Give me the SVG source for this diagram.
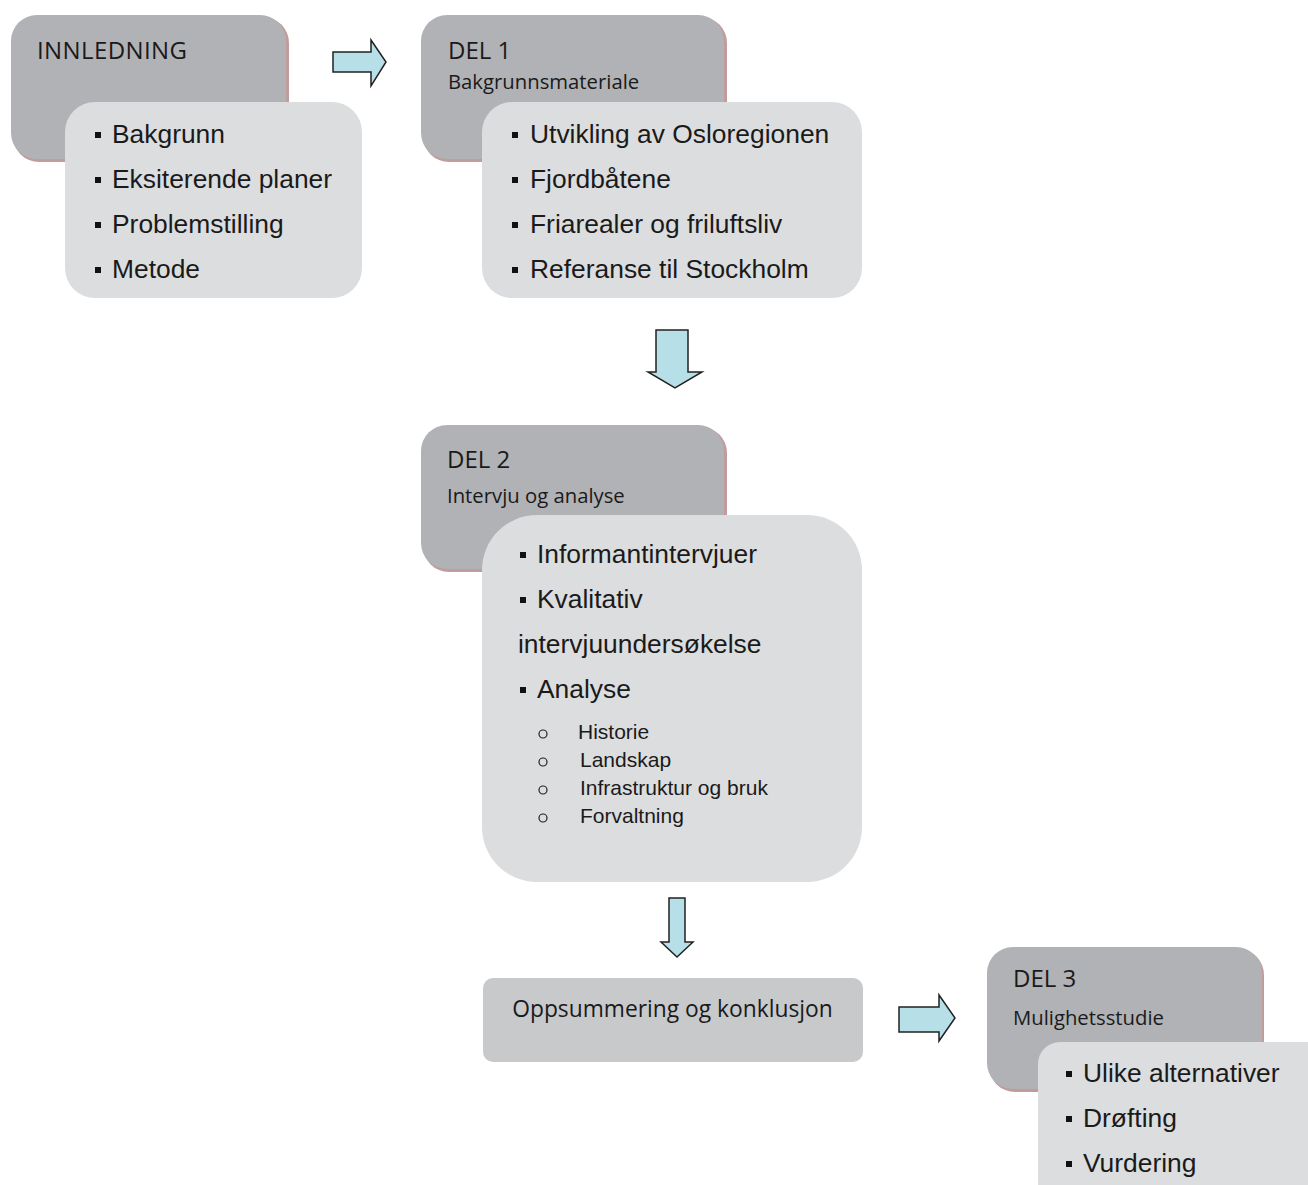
<svg xmlns="http://www.w3.org/2000/svg" width="1308" height="1185" viewBox="0 0 1308 1185">
<style>
.dark{fill:#b1b2b5}
.shadow{fill:#c29c9c}
.light{fill:#dcdddf}
.summ{fill:#c8c9cb}
.arrow{fill:#b7dfe8;stroke:#222;stroke-width:1.5;stroke-linejoin:miter}
.title{font-family:"Open Sans","Liberation Sans",sans-serif;font-size:24px;fill:#1a1a1a}
.sub{font-family:"Open Sans","Liberation Sans",sans-serif;font-size:20.3px;fill:#1a1a1a}
.item{font-family:"Liberation Sans",Arial,sans-serif;font-size:26.4px;fill:#1a1a1a}
.small{font-family:"Liberation Sans",Arial,sans-serif;font-size:21px;fill:#1a1a1a}
.sq{fill:#111}
.circ{fill:none;stroke:#222;stroke-width:1.2}
</style>
<defs>
<rect id="b" width="6" height="6" class="sq"/>
</defs>
<rect width="1308" height="1185" fill="#ffffff"/>
<g id="connectors">
<path class="arrow" d="M333,52 H371 V40 L386,62 L371,86 V72 H333 Z"/>
<path class="arrow" d="M656,330 H688 V372 H702 L675,388 L648,372 H656 Z"/>
<path class="arrow" d="M669,898 H685 V942 H693 L677,957 L661,942 H669 Z"/>
<path class="arrow" d="M899,1007 H939 V995 L955,1018 L939,1041 V1032 H899 Z"/>
</g>
<g id="innledning">
<rect class="shadow" x="13" y="17" width="276" height="145" rx="26"/>
<rect class="dark" x="11" y="15" width="275" height="144" rx="26"/>
<text class="title" x="37" y="59" textLength="150">INNLEDNING</text>
</g>
<g id="innledning-items">
<rect class="light" x="65" y="102" width="297" height="196" rx="30"/>
<use href="#b" x="95" y="132"/><text class="item" x="112" y="143">Bakgrunn</text>
<use href="#b" x="95" y="177"/><text class="item" x="112" y="188">Eksiterende planer</text>
<use href="#b" x="95" y="222"/><text class="item" x="112" y="233">Problemstilling</text>
<use href="#b" x="95" y="267"/><text class="item" x="112" y="278">Metode</text>
</g>
<g id="del1">
<rect class="shadow" x="423" y="17" width="304" height="145" rx="26"/>
<rect class="dark" x="421" y="15" width="303" height="144" rx="26"/>
<text class="title" x="448" y="59">DEL 1</text>
<text class="sub" x="448" y="89">Bakgrunnsmateriale</text>
</g>
<g id="del1-items">
<rect class="light" x="482" y="102" width="380" height="196" rx="30"/>
<use href="#b" x="512" y="132"/><text class="item" x="530" y="143">Utvikling av Osloregionen</text>
<use href="#b" x="512" y="177"/><text class="item" x="530" y="188">Fjordbåtene</text>
<use href="#b" x="512" y="222"/><text class="item" x="530" y="233">Friarealer og friluftsliv</text>
<use href="#b" x="512" y="267"/><text class="item" x="530" y="278">Referanse til Stockholm</text>
</g>
<g id="del2">
<rect class="shadow" x="423" y="427" width="304" height="145" rx="26"/>
<rect class="dark" x="421" y="425" width="303" height="144" rx="26"/>
<text class="title" x="447" y="468">DEL 2</text>
<text class="sub" x="447" y="503">Intervju og analyse</text>
</g>
<g id="del2-items">
<rect class="light" x="482" y="515" width="380" height="367" rx="55"/>
<use href="#b" x="520" y="552"/><text class="item" x="537" y="563">Informantintervjuer</text>
<use href="#b" x="520" y="597"/><text class="item" x="537" y="608">Kvalitativ</text>
<text class="item" x="518" y="653">intervjuundersøkelse</text>
<use href="#b" x="520" y="687"/><text class="item" x="537" y="698">Analyse</text>
<circle class="circ" cx="543" cy="734" r="4"/><text class="small" x="578" y="739">Historie</text>
<circle class="circ" cx="543" cy="762" r="4"/><text class="small" x="580" y="767">Landskap</text>
<circle class="circ" cx="543" cy="790" r="4"/><text class="small" x="580" y="795">Infrastruktur og bruk</text>
<circle class="circ" cx="543" cy="818" r="4"/><text class="small" x="580" y="823">Forvaltning</text>
</g>
<g id="oppsummering">
<rect class="summ" x="483" y="978" width="380" height="84" rx="10"/>
<text class="title" x="672.5" y="1017" text-anchor="middle" style="font-size:22.8px">Oppsummering og konklusjon</text>
</g>
<g id="del3">
<rect class="shadow" x="989" y="949" width="275" height="143" rx="26"/>
<rect class="dark" x="987" y="947" width="275" height="142" rx="26"/>
<text class="title" x="1013" y="987">DEL 3</text>
<text class="sub" x="1013" y="1025">Mulighetsstudie</text>
</g>
<g id="del3-items">
<rect class="light" x="1038" y="1042" width="300" height="180" rx="22"/>
<use href="#b" x="1066" y="1071"/><text class="item" x="1083" y="1082">Ulike alternativer</text>
<use href="#b" x="1066" y="1116"/><text class="item" x="1083" y="1127">Drøfting</text>
<use href="#b" x="1066" y="1161"/><text class="item" x="1083" y="1172">Vurdering</text>
</g>
</svg>
